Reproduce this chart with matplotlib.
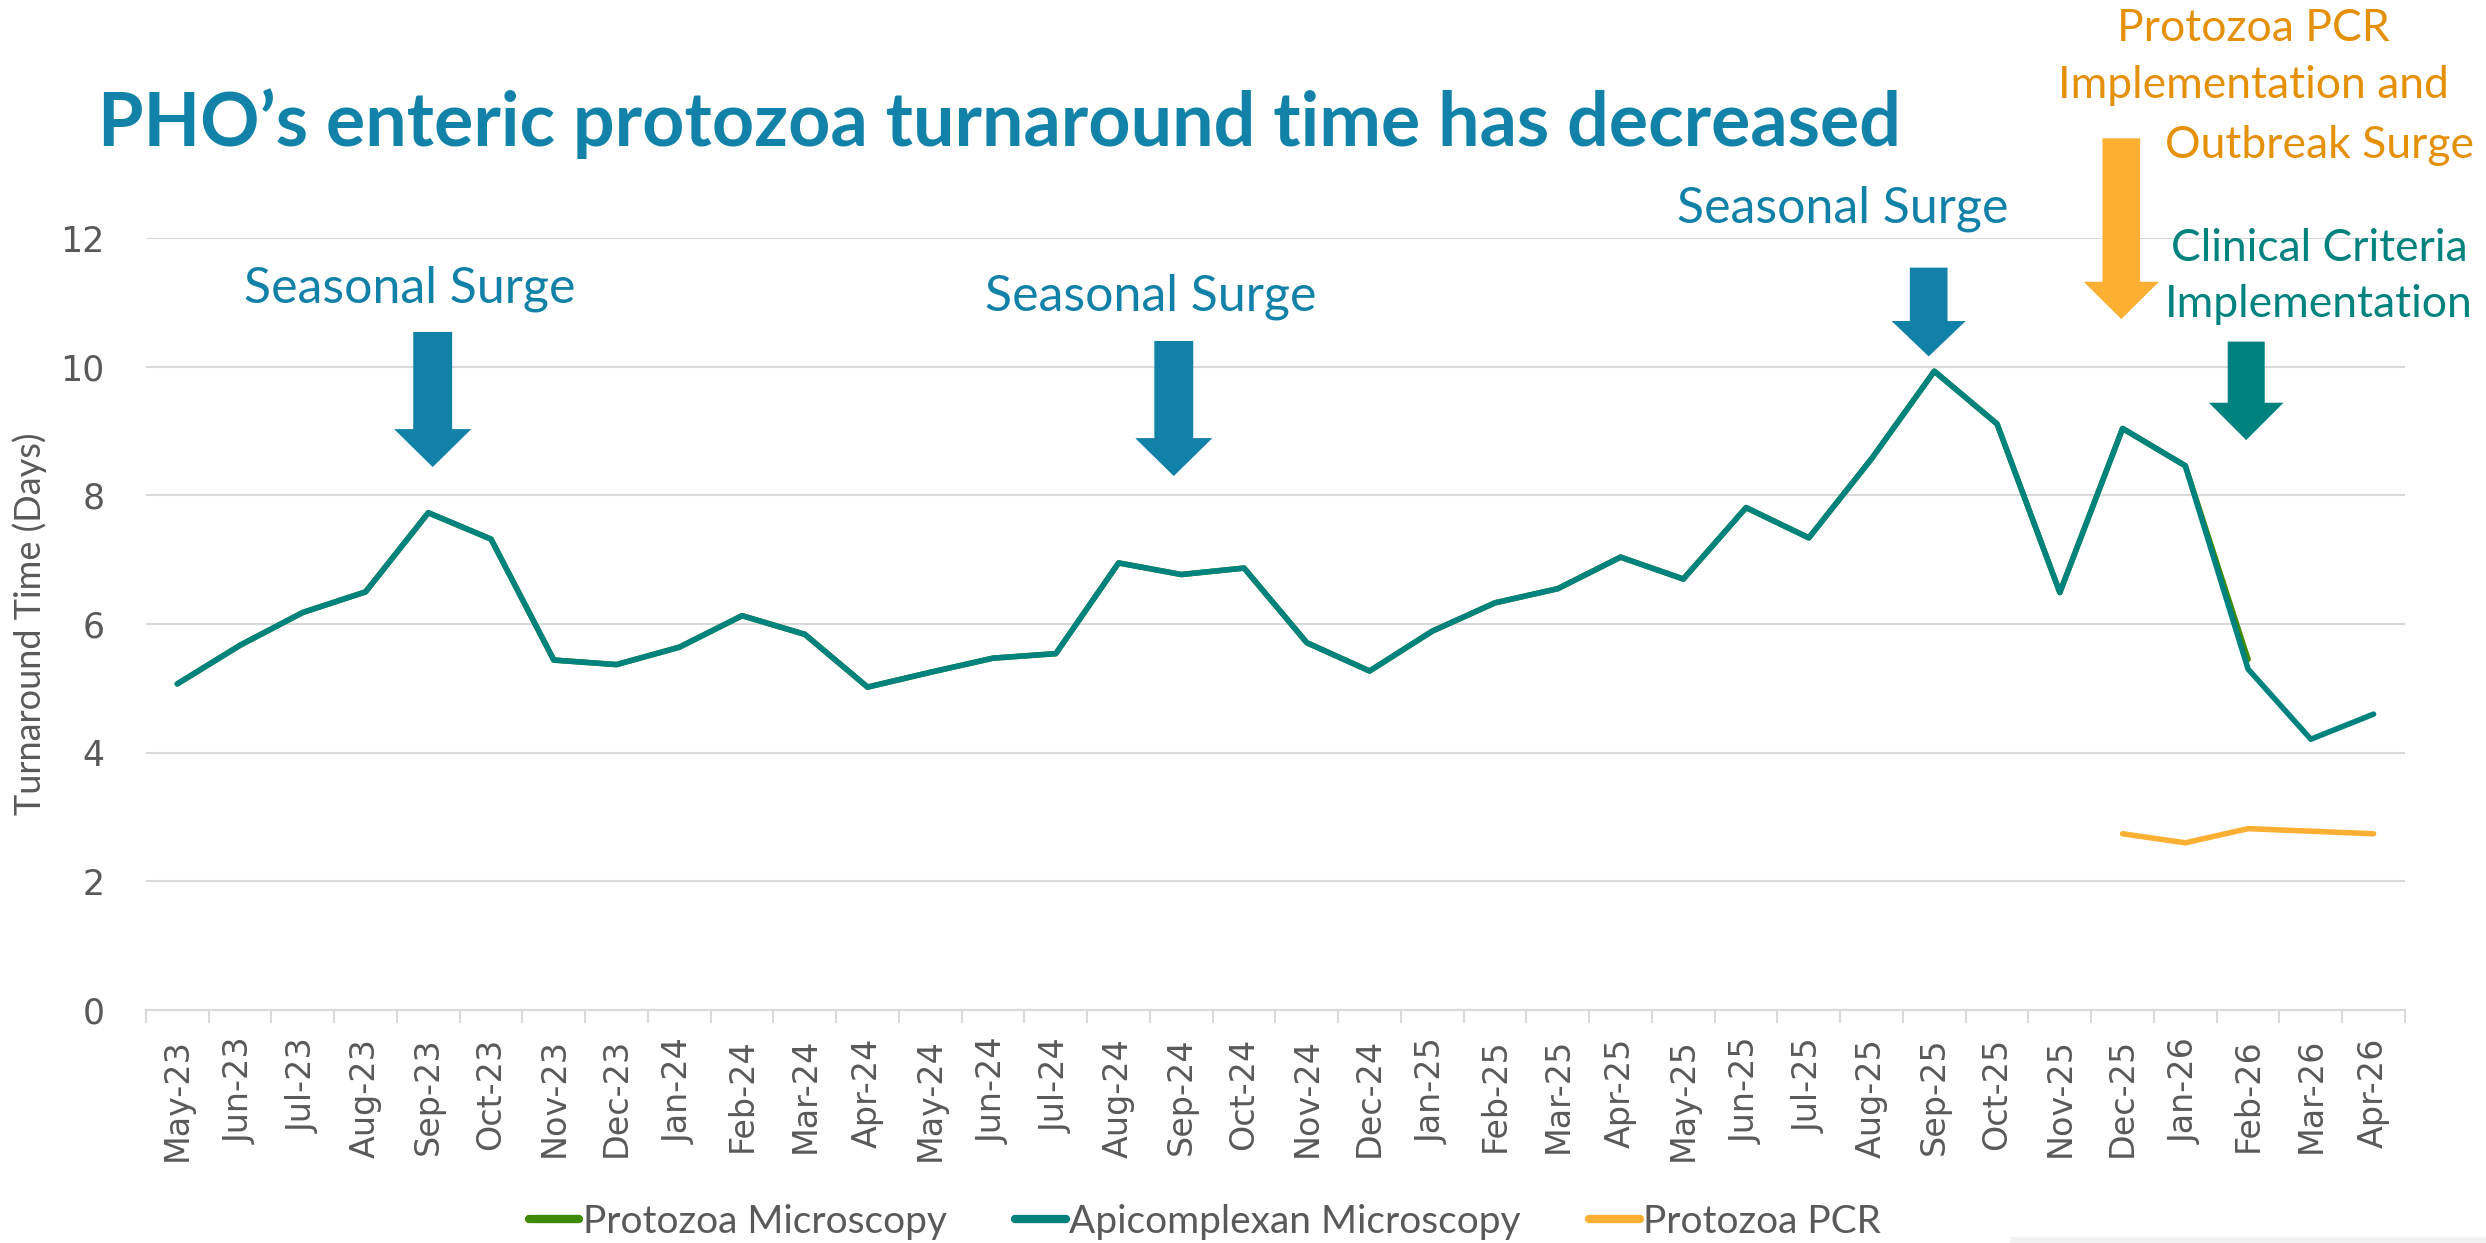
import numpy as np
import matplotlib
matplotlib.use("Agg")
import matplotlib.pyplot as plt
from matplotlib.patches import FancyArrow, Rectangle

months = ["May-23", "Jun-23", "Jul-23", "Aug-23", "Sep-23", "Oct-23", "Nov-23", "Dec-23",
          "Jan-24", "Feb-24", "Mar-24", "Apr-24", "May-24", "Jun-24", "Jul-24", "Aug-24",
          "Sep-24", "Oct-24", "Nov-24", "Dec-24", "Jan-25", "Feb-25", "Mar-25", "Apr-25",
          "May-25", "Jun-25", "Jul-25", "Aug-25", "Sep-25", "Oct-25", "Nov-25", "Dec-25",
          "Jan-26", "Feb-26", "Mar-26", "Apr-26"]

apicomplexan = [5.07, 5.67, 6.18, 6.50, 7.73, 7.32, 5.44, 5.37,
                5.64, 6.13, 5.84, 5.02, 5.25, 5.47, 5.54, 6.95,
                6.77, 6.87, 5.71, 5.27, 5.89, 6.33, 6.55, 7.04,
                6.70, 7.81, 7.34, 8.57, 9.93, 9.11, 6.49, 9.04,
                8.46, 5.30, 4.21, 4.60]

protozoa_micro = apicomplexan[:33] + [5.45, np.nan, np.nan]

protozoa_pcr = [np.nan] * 31 + [2.74, 2.60, 2.82, 2.78, 2.74]

BLUE = "#1181A8"
TEAL = "#00827F"
GREEN = "#3F8A00"
ORANGE = "#FBB034"
ORANGE_TXT = "#E59009"
GREY = "#595959"
GRID = "#D9D9D9"
CAL = ["Lato", "DejaVu Sans"]

fig = plt.figure(figsize=(24.86, 12.43), dpi=100)
ax = fig.add_axes([0.0587, 0.1874, 0.9087, 0.6211])

x = np.arange(len(months))
ax.plot(x, protozoa_micro, color=GREEN, lw=4, solid_capstyle="round", label="Protozoa Microscopy", zorder=3)
ax.plot(x, apicomplexan, color=TEAL, lw=4, solid_capstyle="round", label="Apicomplexan Microscopy", zorder=4)
ax.plot(x, protozoa_pcr, color=ORANGE, lw=4, solid_capstyle="round", label="Protozoa PCR", zorder=4)

ax.set_xlim(-0.5, len(months) - 0.5)
ax.set_ylim(0, 12)
ax.set_yticks(range(0, 13, 2))
ax.yaxis.grid(True, color=GRID, lw=1.5)
ax.set_axisbelow(True)
for s in ["top", "right", "left"]:
    ax.spines[s].set_visible(False)
ax.spines["bottom"].set_color(GRID)
ax.spines["bottom"].set_linewidth(1.5)

ax.set_xticks(x)
ax.set_xticklabels(months, rotation=90, fontsize=24, color=GREY)
ax.set_xticks(np.arange(-0.5, len(months)), minor=True)
ax.tick_params(axis="x", which="major", length=0, pad=20)
ax.tick_params(axis="x", which="minor", length=9, color=GRID, width=1.5)
ax.tick_params(axis="y", length=0, pad=30, labelsize=25, labelcolor=GREY)

ax.set_ylabel("Turnaround Time (Days)", fontsize=26, color=GREY, family=CAL)
ax.yaxis.set_label_coords(-0.0436, 0.5)

fig.text(0.0394, 0.8828, "PHO\u2019s enteric protozoa turnaround time has decreased",
         fontsize=53, fontweight="bold", color="#1282A8", family=CAL, va="baseline")

# annotations
for tx, ty, txt in [(3.70, 11.0, "Seasonal Surge"), (15.51, 10.87, "Seasonal Surge"),
                    (26.54, 12.24, "Seasonal Surge")]:
    ax.text(tx, ty, txt, fontsize=36, color=BLUE, family=CAL, ha="center", va="baseline")

for tx, ty, txt in [(33.09, 15.06, "Protozoa PCR"), (33.09, 14.18, "Implementation and"),
                    (34.14, 13.25, "Outbreak Surge")]:
    ax.text(tx, ty, txt, fontsize=32, color=ORANGE_TXT, family=CAL, ha="center", va="baseline")

for tx, ty, txt in [(34.14, 11.65, "Clinical Criteria"), (34.13, 10.77, "Implementation")]:
    ax.text(tx, ty, txt, fontsize=32, color=TEAL, family=CAL, ha="center", va="baseline")

arrows = [(4.07, 10.54, 8.44, 0.59, 0.62, 1.23, BLUE),
          (15.88, 10.40, 8.30, 0.59, 0.62, 1.23, BLUE),
          (27.91, 11.54, 10.16, 0.55, 0.60, 1.18, BLUE),
          (30.98, 13.55, 10.74, 0.58, 0.60, 1.20, ORANGE),
          (32.97, 10.39, 8.86, 0.58, 0.59, 1.19, TEAL)]
for ax_x, top, tip, hl, w, hw, c in arrows:
    ax.add_patch(FancyArrow(ax_x, top, 0, tip - top, width=w, head_width=hw, head_length=hl,
                            length_includes_head=True, color=c, lw=0, clip_on=False, zorder=5))

leg = ax.legend(loc="center", bbox_to_anchor=(0.4847, 0.0171), bbox_transform=fig.transFigure,
                ncol=3, frameon=False, handlelength=1.3, handletextpad=0.1, columnspacing=1.75,
                prop={"family": CAL, "size": 28})
for t in leg.get_texts():
    t.set_color(GREY)
for h in leg.legend_handles:
    h.set_linewidth(6)
    h.set_solid_capstyle("round")

fig.patches.append(Rectangle((2010 / 2486, 0), 1, 6 / 1243, transform=fig.transFigure,
                             color="#F2F2F2", lw=0))

fig.savefig("out.png", dpi=100)
